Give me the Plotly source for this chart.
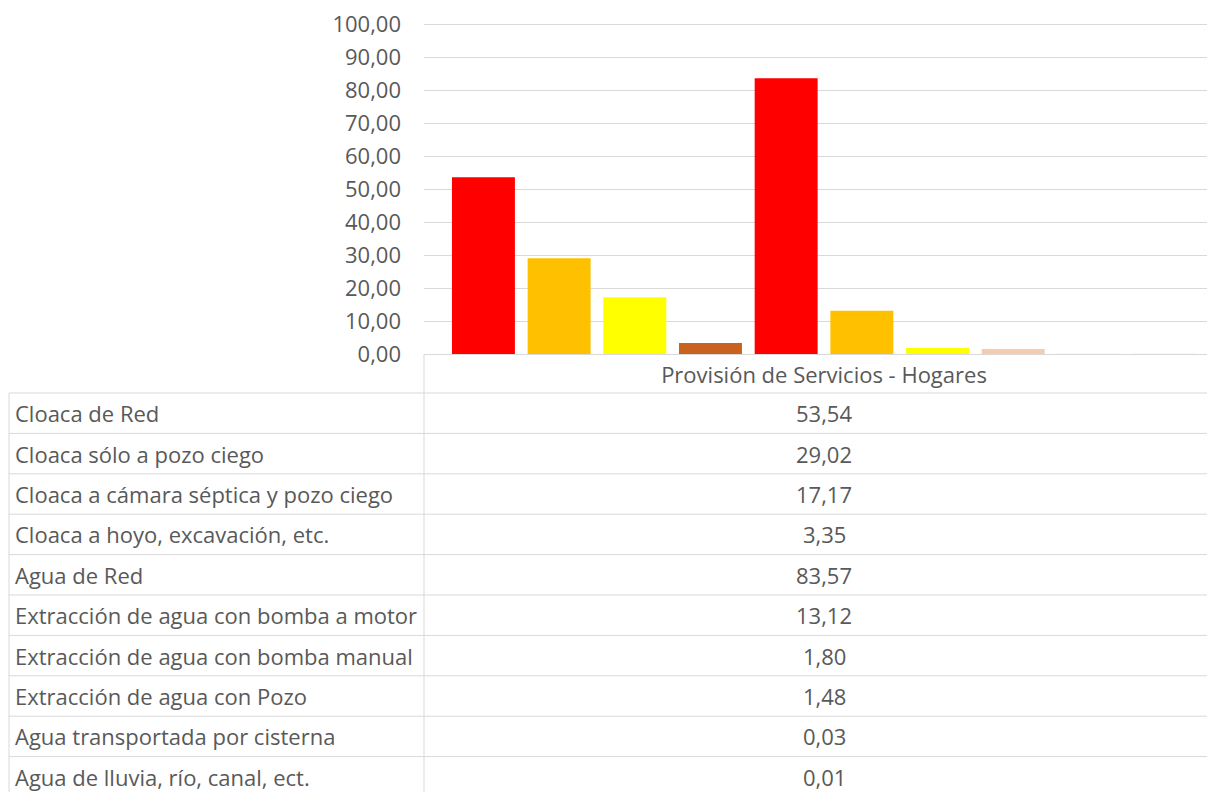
import plotly.graph_objects as go

category = "Provisión de Servicios - Hogares"
series_names = [
    "Cloaca de Red",
    "Cloaca sólo a pozo ciego",
    "Cloaca a cámara séptica y pozo ciego",
    "Cloaca a hoyo, excavación, etc.",
    "Agua de Red",
    "Extracción de agua con bomba a motor",
    "Extracción de agua con bomba manual",
    "Extracción de agua con Pozo",
    "Agua transportada por cisterna",
    "Agua de lluvia, río, canal, ect.",
]
values = [53.54, 29.02, 17.17, 3.35, 83.57, 13.12, 1.80, 1.48, 0.03, 0.01]
colors = ["#FF0000", "#FFC000", "#FFFF00", "#C8621E", "#FF0000",
          "#FFC000", "#FFFF00", "#F8CBAD", "#E0E0E0", "#E0E0E0"]
y_ticks = [0, 10, 20, 30, 40, 50, 60, 70, 80, 90, 100]

OFF = 8  # default page body margin
W, H = 1215 - OFF, 792 - OFF
def px(x):
    return (x - OFF) / W
def py(y):
    return 1 - (y - OFF) / H

TEXT = "#595959"
GRID = "#d9d9d9"
FONT = "Open Sans"
FS = 22

fig = go.Figure()
for name, v, c in zip(series_names, values, colors):
    fig.add_trace(go.Bar(
        x=[category], y=[v], name=name,
        marker=dict(color=c, line=dict(width=0)),
        showlegend=False,
    ))

plot_left, plot_right = 424, 1215
center_px = 824
r = 0.5 * (plot_right - plot_left) / (center_px - plot_left) - 0.5

y_zero_px, y_hundred_px = 354, 24
y_top = 101.0
px_per_unit = (y_zero_px - y_hundred_px) / 100.0
top_px = y_zero_px - y_top * px_per_unit

fig.update_layout(
    width=W, height=H,
    margin=dict(l=0, r=0, t=0, b=0, autoexpand=False),
    paper_bgcolor="white", plot_bgcolor="white",
    barmode="group", bargap=0.054, bargroupgap=0.168,
    separators=",.",
    font=dict(family=FONT, size=FS, color=TEXT),
    xaxis=dict(
        domain=[px(plot_left), 1], range=[-0.5, r],
        showgrid=False, showline=True, linecolor=GRID, linewidth=1,
        ticks="", ticklabelstandoff=2, automargin=False,
        ticklabeloverflow="allow",
        tickfont=dict(family=FONT, size=FS, color=TEXT),
    ),
    yaxis=dict(
        domain=[py(y_zero_px), py(top_px)], range=[0, y_top],
        tickvals=y_ticks, tickformat=".2f",
        showgrid=True, gridcolor=GRID, gridwidth=1,
        zeroline=False, showline=False, ticks="",
        ticklabelstandoff=22, automargin=False,
        ticklabeloverflow="allow",
        tickfont=dict(family=FONT, size=FS, color=TEXT),
    ),
)

shapes = []
row_top = 393
row_h = 40.4
n = len(series_names)
for k in range(n + 1):
    y = row_top + k * row_h
    shapes.append(dict(type="line", xref="paper", yref="paper",
                       x0=px(9), x1=1, y0=py(y), y1=py(y),
                       line=dict(color=GRID, width=1)))
shapes.append(dict(type="line", xref="paper", yref="paper",
                   x0=px(9), x1=px(9), y0=py(row_top), y1=0,
                   line=dict(color=GRID, width=1)))
shapes.append(dict(type="line", xref="paper", yref="paper",
                   x0=px(plot_left), x1=px(plot_left), y0=py(354), y1=0,
                   line=dict(color=GRID, width=1)))

annotations = []
for k, (name, v) in enumerate(zip(series_names, values)):
    yc = row_top + (k + 0.5) * row_h
    annotations.append(dict(x=px(13), y=py(yc), xref="paper", yref="paper",
                            text=name, showarrow=False, xanchor="left",
                            yanchor="middle", font=dict(family=FONT, size=FS, color=TEXT)))
    annotations.append(dict(x=px(center_px), y=py(yc), xref="paper", yref="paper",
                            text=f"{v:.2f}".replace(".", ","), showarrow=False,
                            xanchor="center", yanchor="middle",
                            font=dict(family=FONT, size=FS, color=TEXT)))

fig.update_layout(shapes=shapes, annotations=annotations)
fig.write_html("out.html")
